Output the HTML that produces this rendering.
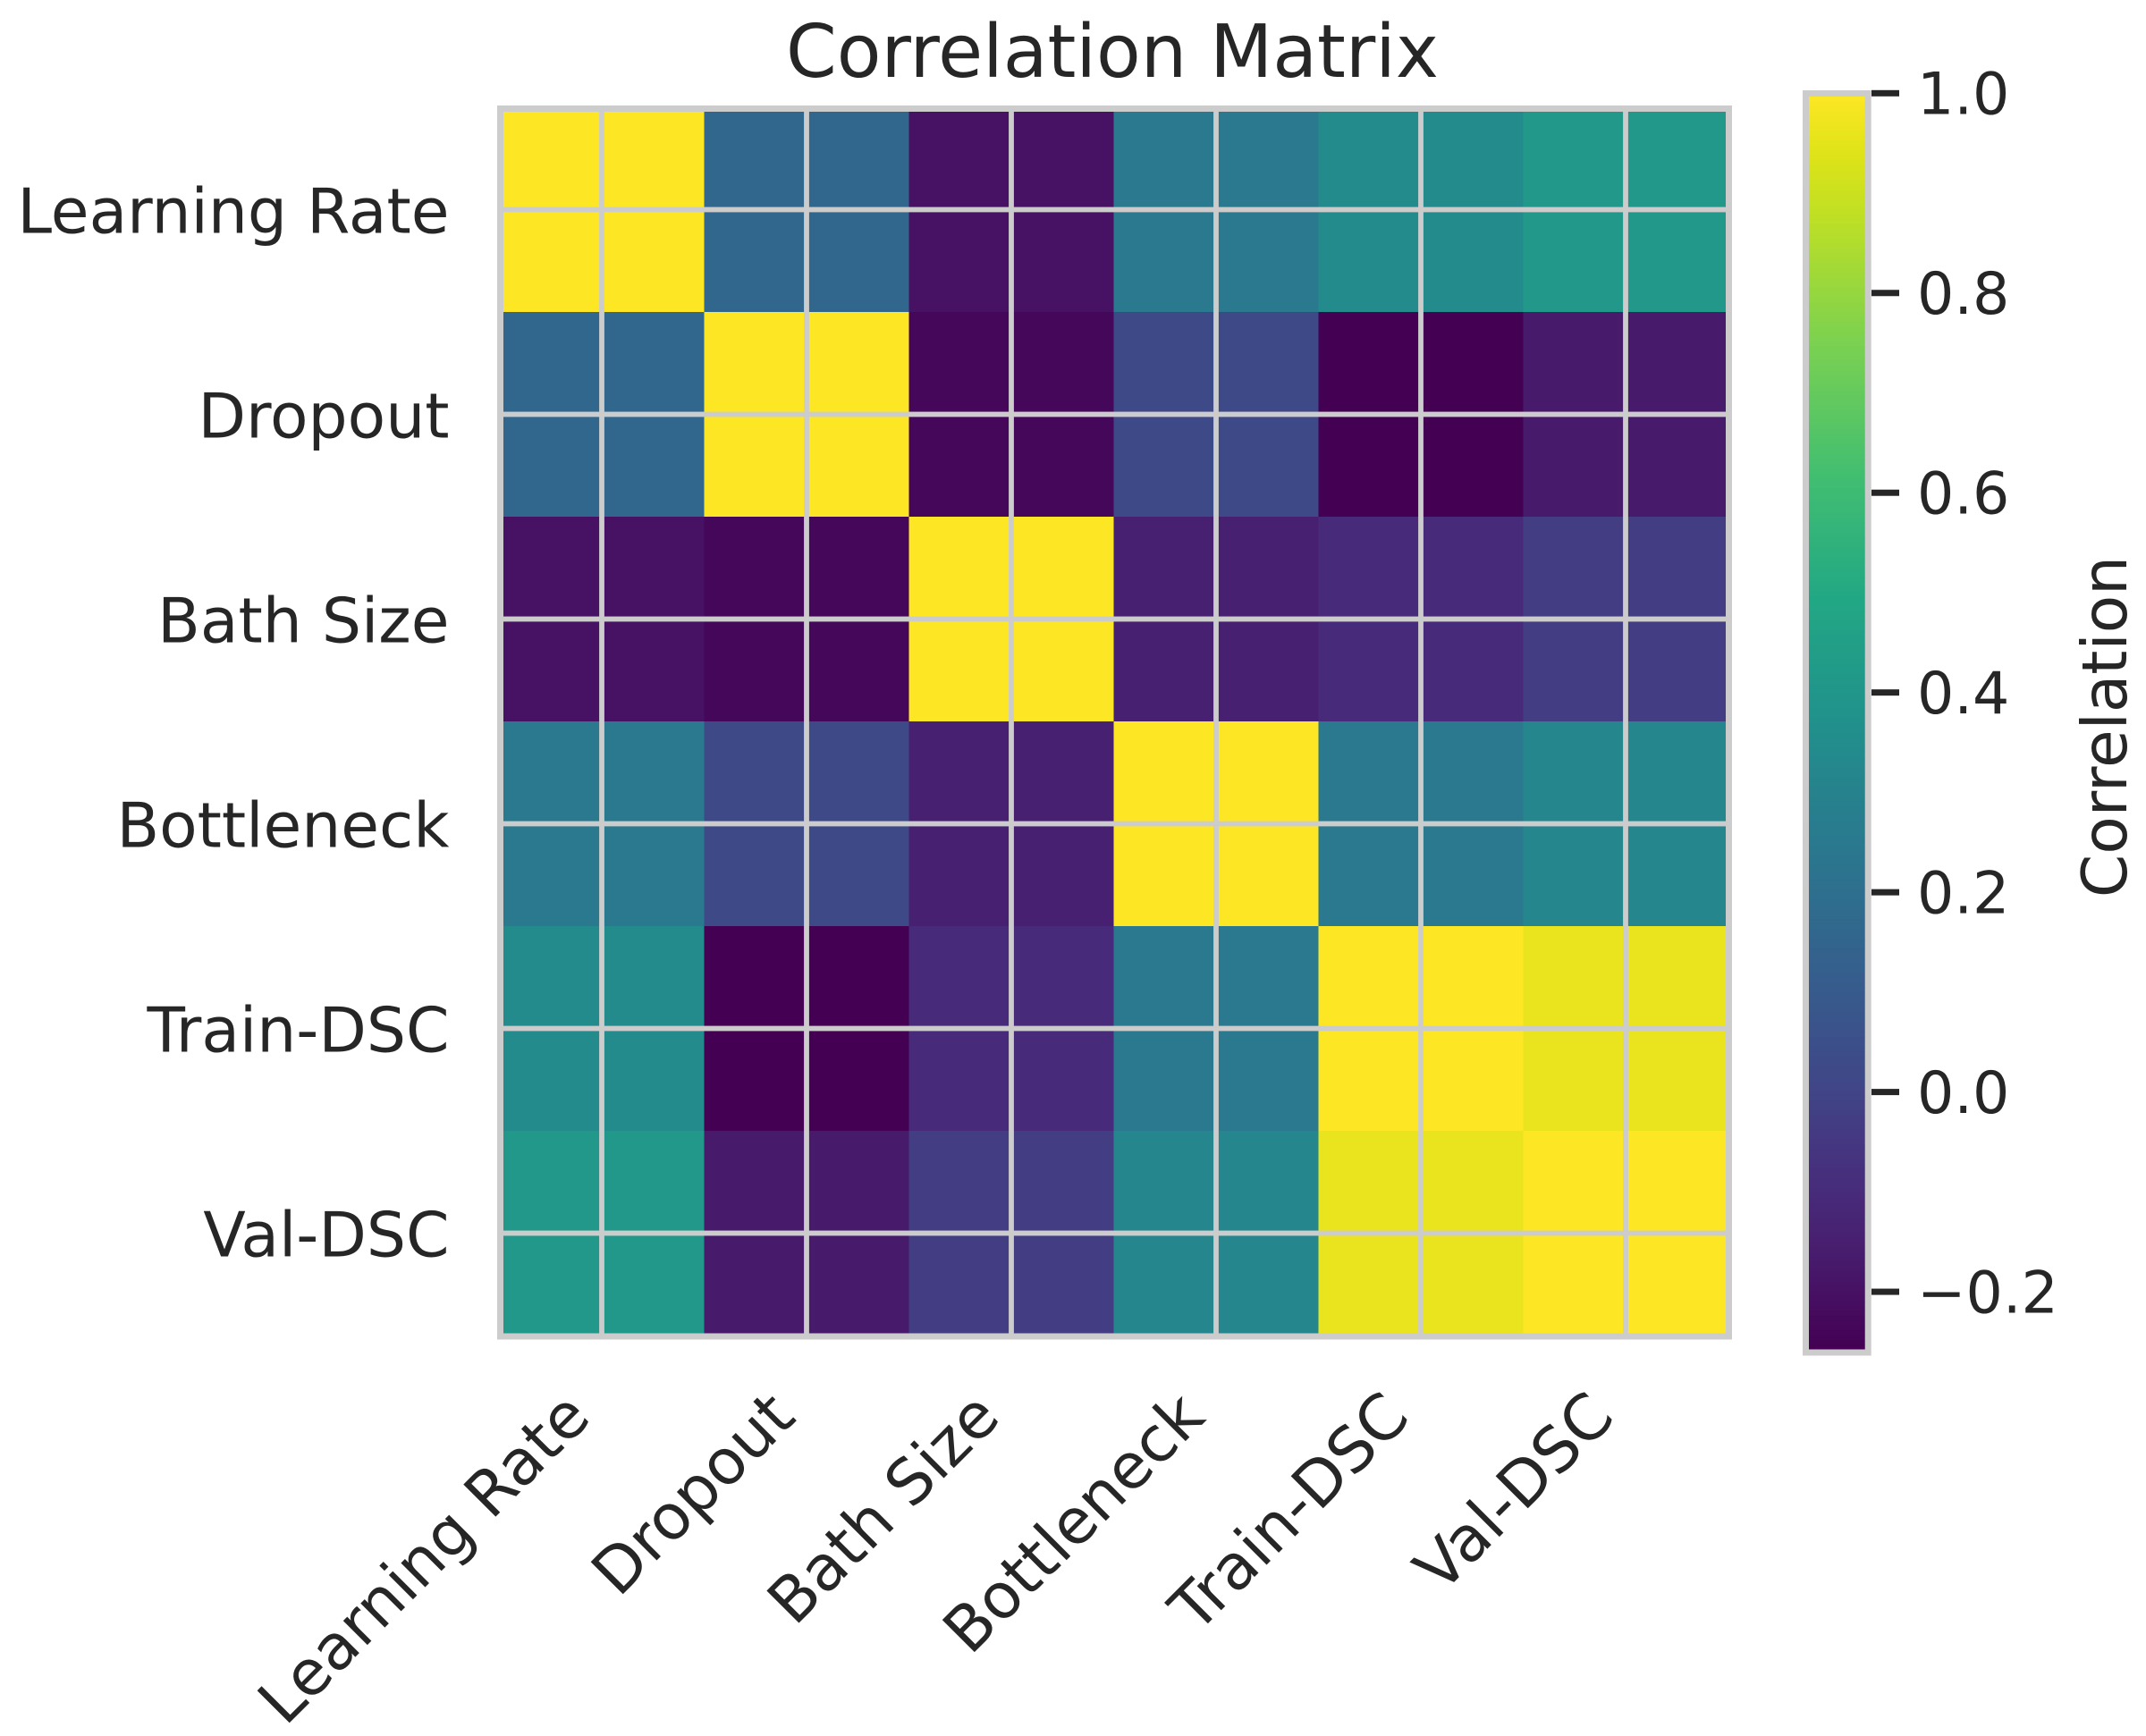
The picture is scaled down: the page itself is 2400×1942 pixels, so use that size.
<!DOCTYPE html>
<html lang="en">
<head>
<meta charset="utf-8">
<title>Correlation Matrix</title>
<style>
  html, body { margin: 0; padding: 0; background: #ffffff; }
  svg { display: block; }
  text { font-family: "DejaVu Sans", "Liberation Sans", sans-serif; fill: #262626; }
</style>
</head>
<body>
<svg id="chart" xmlns="http://www.w3.org/2000/svg" width="2400" height="1942" viewBox="0 0 2400 1942">
  <rect x="0" y="0" width="2400" height="1942" fill="#ffffff"></rect>
  <text x="1244" y="86" font-size="82" text-anchor="middle" textLength="730" lengthAdjust="spacingAndGlyphs">Correlation Matrix</text>
  <g id="cells"></g>
  <g id="grid"></g>
  <g id="spines"></g>
  <g id="xlabels"></g>
  <g id="ylabels"></g>
  <g id="colorbar"></g>
  <g id="cbticks"></g>
  <text transform="translate(2378 813) rotate(-90)" font-size="69.3" text-anchor="middle">Correlation</text>
</svg>
<script>
const categories = ["Learning Rate", "Dropout", "Bath Size", "Bottleneck", "Train-DSC", "Val-DSC"];
const rowLearningRate = [1.00, 0.16, -0.20, 0.25, 0.34, 0.41];
const rowDropout = [0.16, 1.00, -0.24, 0.02, -0.26, -0.17];
const rowBathSize = [-0.20, -0.24, 1.00, -0.15, -0.11, -0.03];
const rowBottleneck = [0.25, 0.02, -0.15, 1.00, 0.25, 0.32];
const rowTrainDsc = [0.34, -0.26, -0.11, 0.25, 1.00, 0.96];
const rowValDsc = [0.41, -0.17, -0.03, 0.32, 0.96, 1.00];
const matrix = [rowLearningRate, rowDropout, rowBathSize, rowBottleneck, rowTrainDsc, rowValDsc];
const colorbarTicks = [1.0, 0.8, 0.6, 0.4, 0.2, 0.0, -0.2];
const colorbarTickLabels = ["1.0", "0.8", "0.6", "0.4", "0.2", "0.0", "\u22120.2"];
const valueMin = -0.26;
const valueMax = 1.0;

const SVG_NS = "http://www.w3.org/2000/svg";
const viridisStops = [
  [0.00, 68, 1, 84], [0.05, 71, 19, 101], [0.10, 72, 36, 117], [0.15, 70, 51, 127],
  [0.20, 65, 68, 135], [0.30, 53, 95, 141], [0.40, 42, 120, 142], [0.50, 33, 145, 140],
  [0.60, 34, 168, 132], [0.70, 68, 191, 112], [0.80, 122, 209, 81], [0.90, 189, 223, 38],
  [0.95, 221, 227, 24], [1.00, 253, 231, 37]
];
function viridis(t) {
  const c = Math.max(0, Math.min(1, t));
  for (let i = 1; i < viridisStops.length; i++) {
    const a = viridisStops[i - 1], b = viridisStops[i];
    if (c <= b[0]) {
      const f = (c - a[0]) / (b[0] - a[0]);
      return "rgb(" + [1, 2, 3].map(function (k) { return Math.round(a[k] + (b[k] - a[k]) * f); }).join(",") + ")";
    }
  }
  return "rgb(253,231,37)";
}
function colorFor(v) { return viridis((v - valueMin) / (valueMax - valueMin)); }

const plotLeft = 558.5, plotTop = 120, cellSize = 229;
const n = categories.length;
function xAt(i) { return plotLeft + i * cellSize; }
function yAt(i) { return plotTop + i * cellSize; }
const barTop = 107.5, barBottom = 1509.5, barLeft = 2023, barRight = 2086;
const tickTopY = 104.3, unitPx = 1117.3;
function barY(v) { return tickTopY + (valueMax - v) * unitPx; }

function make(tag, attrs, parentId) {
  const el = document.createElementNS(SVG_NS, tag);
  for (const k in attrs) el.setAttribute(k, attrs[k]);
  document.getElementById(parentId).appendChild(el);
  return el;
}
function slug(s) { return s.toLowerCase().replace(/[^a-z0-9]+/g, "-"); }

matrix.forEach(function (row, r) {
  row.forEach(function (value, c) {
    const el = make("rect", { x: xAt(c), y: yAt(r), width: cellSize + 0.4, height: cellSize + 0.4, fill: colorFor(value) }, "cells");
    
    
  });
});

categories.forEach(function (name, i) {
  const vx = xAt(i) + cellSize / 2;
  const hy = yAt(i) + cellSize / 2;
  const vLine = make("rect", { x: vx - 2.9, y: plotTop, width: 5.8, height: cellSize * n, fill: "#cccccc" }, "grid");
  
  
  const hLine = make("rect", { x: plotLeft, y: hy - 2.9, width: cellSize * n, height: 5.8, fill: "#cccccc" }, "grid");
  
  

  const xLabel = make("text", { "font-size": 70, "text-anchor": "end", transform: "translate(" + (vx - 10) + " 1588) rotate(-45)" }, "xlabels");
  xLabel.textContent = name;
  
  

  const yLabel = make("text", { "font-size": 69.5, "text-anchor": "end", x: 502.5, y: hy + 26 }, "ylabels");
  yLabel.textContent = name;
  
  
});

const frame = make("rect", { x: 559.5, y: 121.5, width: 1374, height: 1373.5, fill: "none", stroke: "#cccccc", "stroke-width": 7, "shape-rendering": "crispEdges" }, "spines");



const gradientSteps = 256;
for (let s = 0; s < gradientSteps; s++) {
  const frac0 = s / gradientSteps;
  const y0 = barBottom - frac0 * (barBottom - barTop);
  const h = (barBottom - barTop) / gradientSteps;
  const band = make("rect", { x: barLeft, y: y0 - h, width: barRight - barLeft, height: h + 0.6, fill: viridis(frac0) }, "colorbar");
  
  
}
const barFrame = make("rect", { x: 2019.5, y: 104.5, width: 69.7, height: 1408.5, fill: "none", stroke: "#cccccc", "stroke-width": 7 }, "colorbar");



colorbarTicks.forEach(function (value, i) {
  const y = barY(value);
  const tick = make("rect", { x: 2093, y: y - 3.5, width: 31, height: 7, fill: "#262626" }, "cbticks");
  
  
  const label = make("text", { x: 2144, y: y + 23.3, "font-size": 65 }, "cbticks");
  label.textContent = colorbarTickLabels[i];
  
  
});
</script>
</body>
</html>
